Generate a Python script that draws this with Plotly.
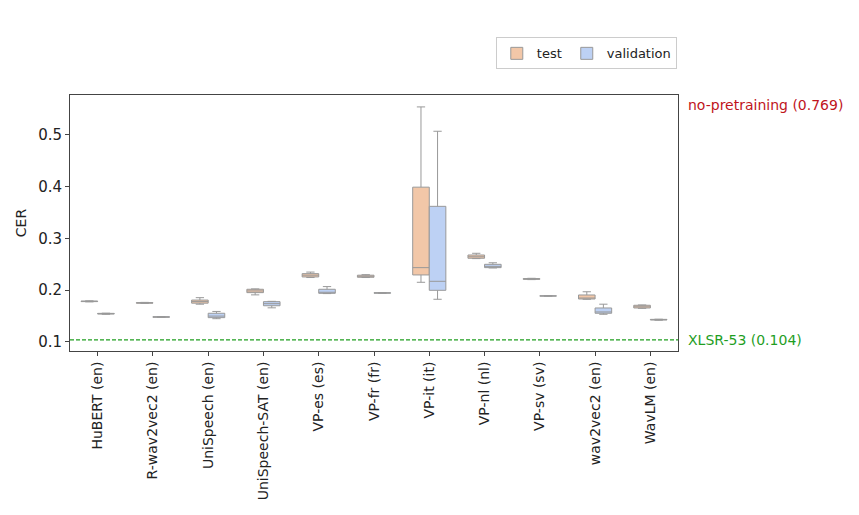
import plotly.graph_objects as go

models = ["HuBERT (en)", "R-wav2vec2 (en)", "UniSpeech (en)", "UniSpeech-SAT (en)",
          "VP-es (es)", "VP-fr (fr)", "VP-it (it)", "VP-nl (nl)", "VP-sv (sv)",
          "wav2vec2 (en)", "WavLM (en)"]

test_low = [0.1775, 0.1745, 0.173, 0.191, 0.2245, 0.2245, 0.2153, 0.2610, 0.2205, 0.1825, 0.1650]
test_q1 = [0.1780, 0.1750, 0.1750, 0.1953, 0.2256, 0.2250, 0.2295, 0.2617, 0.2210, 0.1830, 0.1657]
test_med = [0.1785, 0.1755, 0.1780, 0.1986, 0.2290, 0.2262, 0.2436, 0.2646, 0.2217, 0.1844, 0.1680]
test_q3 = [0.1790, 0.1760, 0.1810, 0.2018, 0.2320, 0.2290, 0.3990, 0.2680, 0.2225, 0.1908, 0.1709]
test_high = [0.1795, 0.1765, 0.1856, 0.2025, 0.2350, 0.2300, 0.5540, 0.2713, 0.2230, 0.1970, 0.1715]

val_low = [0.1535, 0.1475, 0.1450, 0.1660, 0.1935, 0.1940, 0.1825, 0.2430, 0.1885, 0.1535, 0.1420]
val_q1 = [0.1540, 0.1478, 0.1470, 0.1700, 0.1940, 0.1942, 0.1998, 0.2436, 0.1887, 0.1555, 0.1425]
val_med = [0.1547, 0.1483, 0.1500, 0.1740, 0.1960, 0.1947, 0.2172, 0.2460, 0.1889, 0.1580, 0.1431]
val_q3 = [0.1553, 0.1488, 0.1555, 0.1779, 0.2018, 0.1952, 0.3620, 0.2500, 0.1891, 0.1657, 0.1437]
val_high = [0.1556, 0.1490, 0.1590, 0.1785, 0.2070, 0.1955, 0.5070, 0.2530, 0.1893, 0.1730, 0.1440]

baselines = {"XLSR-53": 0.104}
no_pretraining = 0.769

fig = go.Figure()
fig.add_trace(go.Box(
    name="test", x=models, q1=test_q1, median=test_med, q3=test_q3,
    lowerfence=test_low, upperfence=test_high,
    fillcolor="#f2c7a8", line=dict(color="#999999", width=1),
    whiskerwidth=0.5, boxpoints=False,
))
fig.add_trace(go.Box(
    name="validation", x=models, q1=val_q1, median=val_med, q3=val_q3,
    lowerfence=val_low, upperfence=val_high,
    fillcolor="#bdd1f4", line=dict(color="#999999", width=1),
    whiskerwidth=0.5, boxpoints=False,
))

fig.add_hline(y=baselines["XLSR-53"], line=dict(color="#1f9e1f", width=1.2, dash="4px,2px"))

fig.add_annotation(text=f"XLSR-53 ({baselines['XLSR-53']})", xref="paper", x=1.013, xanchor="left",
                   yref="y", y=baselines["XLSR-53"], yanchor="middle", showarrow=False,
                   font=dict(color="#1f9e1f", size=14, family="DejaVu Sans"))
fig.add_annotation(text=f"no-pretraining ({no_pretraining})", xref="paper", x=1.013, xanchor="left",
                   yref="paper", y=0.96, yanchor="middle", showarrow=False,
                   font=dict(color="#c0141c", size=14, family="DejaVu Sans"))

fig.update_layout(
    width=859, height=515,
    margin=dict(l=57, r=189, t=87, b=172),
    paper_bgcolor="white", plot_bgcolor="white",
    font=dict(family="DejaVu Sans", size=14, color="#222222"),
    boxmode="group", boxgap=0.4, boxgroupgap=0.0,
    legend=dict(orientation="h", x=0.998, xanchor="right", y=1.1, yanchor="bottom",
                bordercolor="#cccccc", borderwidth=1, font=dict(size=13),
                tracegroupgap=0, itemwidth=30),
    xaxis=dict(showline=True, linecolor="#444444", linewidth=1, mirror=True,
               ticks="outside", ticklen=4, tickcolor="#444444", tickangle=-90,
               showgrid=False, tickfont=dict(size=14)),
    yaxis=dict(title=dict(text="CER", standoff=8, font=dict(size=14)), range=[0.0826, 0.577],
               tickvals=[0.1, 0.2, 0.3, 0.4, 0.5], ticktext=["0.1", "0.2", "0.3", "0.4", "0.5"],
               showline=True, linecolor="#444444", linewidth=1, mirror=True,
               ticks="outside", ticklen=4, tickcolor="#444444", showgrid=False, zeroline=False,
               tickfont=dict(size=15)),
)

fig.write_html("out.html")
